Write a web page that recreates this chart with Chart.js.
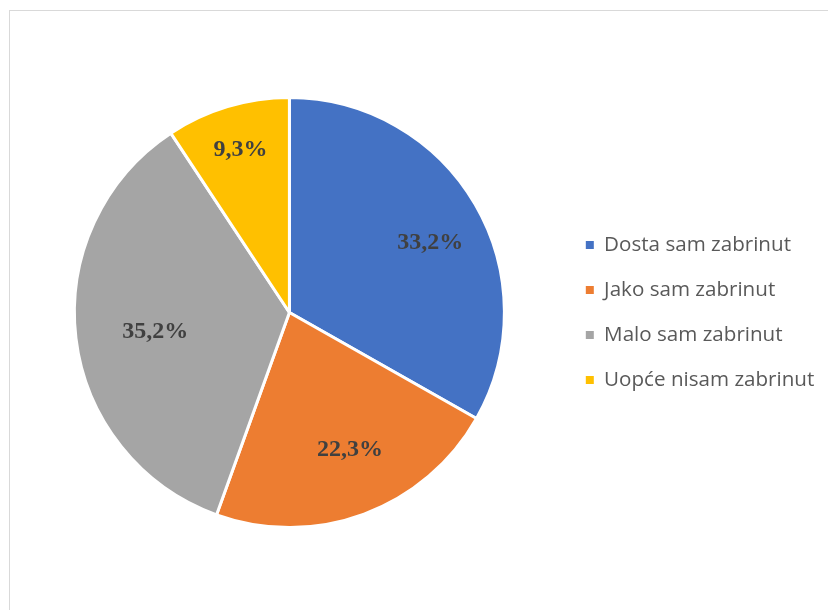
<!DOCTYPE html>
<html>
<head>
<meta charset="utf-8">
<script src="https://cdn.jsdelivr.net/npm/chart.js@4.4.1/dist/chart.umd.min.js"></script>
<style>
  html, body { margin: 0; padding: 0; background: #ffffff; }
  #wrap { position: relative; width: 828px; height: 610px; }
  #frame { position: absolute; left: 9px; top: 10px; width: 830px; height: 620px; border: 1px solid #d9d9d9; box-sizing: border-box; }
  canvas { position: absolute; left: 0; top: 0; }
</style>
</head>
<body>
<div id="wrap">
  <div id="frame"></div>
  <canvas id="c" width="828" height="610"></canvas>
</div>
<script>
const categories = ["Dosta sam zabrinut", "Jako sam zabrinut", "Malo sam zabrinut", "Uopće nisam zabrinut"];
const values = [33.2, 22.3, 35.2, 9.3];
const colors = ["#4472c4", "#ed7d31", "#a5a5a5", "#ffc000"];

const labelPlugin = {
  id: 'sliceLabels',
  afterDatasetsDraw(chart, args, opts) {
    const ctx = chart.ctx;
    const meta = chart.getDatasetMeta(0);
    ctx.save();
    ctx.font = opts.font;
    ctx.fillStyle = opts.color;
    ctx.textAlign = 'center';
    ctx.textBaseline = 'middle';
    meta.data.forEach((arc, i) => {
      const p = arc.getProps(['x', 'y', 'startAngle', 'endAngle', 'outerRadius'], true);
      const mid = (p.startAngle + p.endAngle) / 2 + (opts.angleShift[i] || 0);
      const r = p.outerRadius * opts.radius[i];
      const x = p.x + Math.cos(mid) * r;
      const y = p.y + Math.sin(mid) * r;
      const v = chart.data.datasets[0].data[i];
      ctx.fillText(v.toFixed(1).replace('.', ',') + '%', x, y);
    });
    ctx.restore();
  }
};

const defaultGen = Chart.overrides.pie.plugins.legend.labels.generateLabels;

new Chart(document.getElementById('c'), {
  type: 'pie',
  data: {
    labels: categories,
    datasets: [{
      data: values,
      backgroundColor: colors,
      borderColor: '#ffffff',
      borderWidth: 3
    }]
  },
  options: {
    responsive: false,
    animation: false,
    layout: { padding: { left: 17.4, top: 96, bottom: 81, right: 3.7 } },
    plugins: {
      tooltip: { enabled: false },
      legend: {
        position: 'right',
        labels: {
          boxWidth: 8,
          boxHeight: 8,
          padding: 24.4,
          color: '#595959',
          font: { family: "'Open Sans', sans-serif", size: 20.6 },
          generateLabels(chart) {
            return defaultGen(chart).map(item => Object.assign(item, { lineWidth: 0, strokeStyle: item.fillStyle }));
          }
        }
      },
      sliceLabels: {
        font: "bold 24px 'Liberation Serif', 'Times New Roman', serif",
        color: '#404040',
        radius: [0.73, 0.70, 0.63, 0.79],
        angleShift: [0.07, -0.06, -0.02, 0]
      }
    }
  },
  plugins: [labelPlugin]
});
</script>
</body>
</html>
